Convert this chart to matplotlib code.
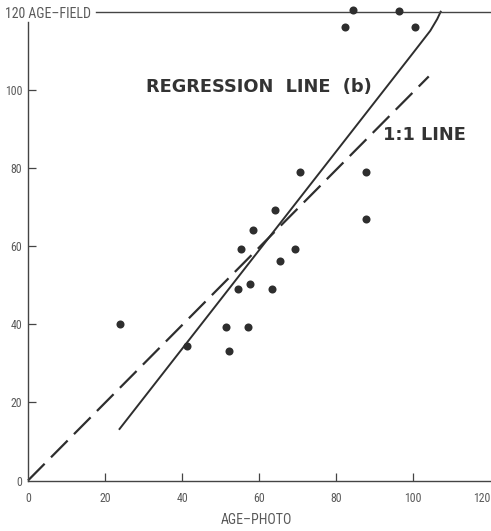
import matplotlib
matplotlib.use("Agg")
import matplotlib.pyplot as plt
from matplotlib import font_manager as fm

# Data
age_photo = [24, 41.3, 51.4, 52.2, 57.1, 54.5, 57.5, 63.2, 55.4, 58.3,
             65.3, 64.2, 69.4, 70.5, 87.6, 87.6, 82.3, 84.3, 96.4, 100.4]
age_field = [40, 34.5, 39.4, 33.2, 39.4, 49.1, 50.4, 49.1, 59.4, 64.1,
             56.3, 69.3, 59.2, 79.1, 79, 67, 116.2, 120.5, 120.3, 116.1]

regression_x = [23.6, 100.0, 104.4, 106.2, 107.2]
regression_y = [13.0, 109.6, 115.2, 118.2, 120.3]

one_to_one_x = [0, 104]
one_to_one_y = [0, 103.5]

x_ticks = [20, 40, 60, 80, 100]
y_ticks = [20, 40, 60, 80, 100]

plt.rcParams['lines.scale_dashes'] = False


def find_condensed():
    pref = ['Liberation Sans Narrow', 'Roboto Condensed', 'Open Sans Condensed',
            'Noto Sans', 'Roboto', 'Open Sans', 'DejaVu Sans', 'Inter', 'Lato']
    best = None
    for f in fm.fontManager.ttflist:
        st = str(f.stretch).lower()
        cond_like = ('narrow' in f.name.lower() or 'condensed' in f.name.lower()
                     or st in ('condensed', 'extra-condensed', 'ultra-condensed')
                     or (isinstance(f.stretch, (int, float)) and f.stretch <= 300))
        if not cond_like or f.style != 'normal':
            continue
        try:
            w = int(f.weight)
        except (TypeError, ValueError):
            w = 400 if str(f.weight) in ('normal', 'regular', 'book') else 700
        if w < 300 or w > 450:
            continue
        rank = len(pref)
        for i, p in enumerate(pref):
            if f.name.startswith(p):
                rank = i
                break
        if best is None or rank < best[0]:
            best = (rank, f.fname)
    return best[1] if best else None


cond_file = find_condensed()
if cond_file:
    def cfont(size):
        return fm.FontProperties(fname=cond_file, size=size)
    tick_fs, title_fs, xlab_fs = 8.6, 10.0, 10.0
else:
    def cfont(size):
        return fm.FontProperties(family=['Liberation Sans', 'DejaVu Sans'], size=size)
    tick_fs, title_fs, xlab_fs = 8.0, 8.6, 7.9

ink = '#2e2e2e'
gray = '#5a5a5a'

W, H = 491, 531
fig = plt.figure(figsize=(W / 100, H / 100), dpi=100)
ax = fig.add_axes([28 / W, 50.5 / H, (490.4 - 28) / W, (480.5 - 12) / H])
ax.set_xlim(0, 120)
ax.set_ylim(0, 120)

ax.plot(regression_x, regression_y, color=ink, lw=1.4, solid_capstyle='butt', clip_on=False)
ax.plot(one_to_one_x, one_to_one_y, color=ink, lw=1.6, dashes=(17, 6.5), clip_on=False)
ax.plot(age_photo, age_field, 'o', color=ink, markersize=5.8, markeredgewidth=0, clip_on=False, zorder=5)

ax.spines['right'].set_visible(False)
for s in ['left', 'bottom', 'top']:
    ax.spines[s].set_color('#444444')
    ax.spines[s].set_linewidth(1.0)
ax.spines['left'].set_bounds(0, 117.5)
ax.spines['top'].set_bounds(17.6, 120)

ax.set_xticks(x_ticks)
ax.set_xticks([0, 120], minor=True)
ax.set_yticks(y_ticks)
ax.set_yticks([0], minor=True)
ax.set_xticklabels([str(v) for v in x_ticks])
ax.set_xticklabels(['0', '120'], minor=True)
ax.set_yticklabels([str(v) for v in y_ticks])
ax.set_yticklabels(['0'], minor=True)
ax.tick_params(axis='x', which='both', pad=8)
ax.tick_params(axis='y', which='both', pad=4)
ax.tick_params(which='major', direction='in', length=6, width=0.9, color='#444444',
               labelcolor=gray)
ax.tick_params(which='minor', direction='in', length=0, labelcolor=gray)
for lab in ax.get_xticklabels(which='both') + ax.get_yticklabels(which='both'):
    lab.set_fontproperties(cfont(tick_fs))
ax.get_xticklabels(minor=True)[1].set_ha('right')

fig.text(5 / W, 1 - 14.5 / H, '120 AGE\u2013FIELD', ha='left', va='center',
         fontproperties=cfont(title_fs), color=gray)
fig.text(256 / W, 1 - 520 / H, 'AGE\u2013PHOTO', ha='center', va='center',
         fontproperties=cfont(xlab_fs), color=gray)

ax.text(59.9, 100.8, 'REGRESSION  LINE  (b)', ha='center', va='center',
        fontsize=12.8, fontweight='bold', color='#333333', family='DejaVu Sans')
ax.text(102.8, 88.6, '1:1 LINE', ha='center', va='center',
        fontsize=12.8, fontweight='bold', color='#333333', family='DejaVu Sans')

fig.savefig('out.png', dpi=100, facecolor='white')
